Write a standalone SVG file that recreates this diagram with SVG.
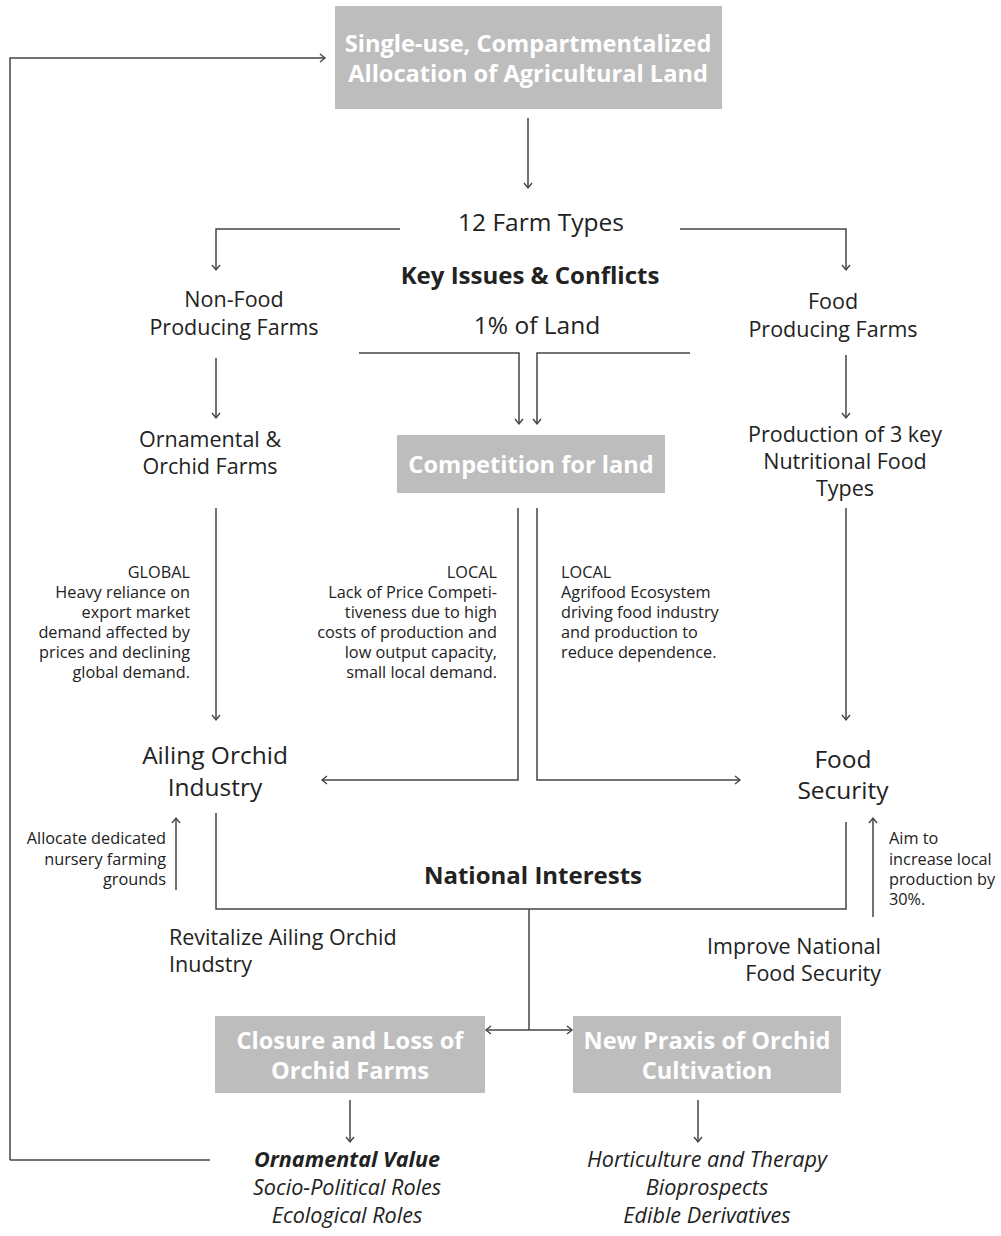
<svg xmlns="http://www.w3.org/2000/svg" width="1001" height="1236" viewBox="0 0 1001 1236">
<style>
text{font-family:"Open Sans",Roboto,"Liberation Sans",sans-serif;fill:#222}
.box{fill:#bdbdbd}
.bt{fill:#fff;font-weight:bold;font-size:23.6px;text-anchor:middle}
.lbl{font-size:21.5px;text-anchor:middle}
.big{font-size:24.5px;text-anchor:middle}
.hd{font-size:24px;font-weight:bold;text-anchor:middle}
.sm{font-size:16.3px}
.r{text-anchor:end}
.it{font-style:italic;font-size:21.6px;text-anchor:middle}
.c line,.c path{stroke:#444;stroke-width:1.5;fill:none}
.a{marker-end:url(#ah)}
.ab{marker-start:url(#ahs);marker-end:url(#ah)}
</style>
<defs>
<marker id="ah" markerUnits="userSpaceOnUse" markerWidth="12" markerHeight="12" refX="6" refY="5" orient="auto" viewBox="0 0 12 12">
<path d="M1,1 L6,5 L1,9" fill="none" stroke="#444" stroke-width="1.4"/>
</marker>
<marker id="ahs" markerUnits="userSpaceOnUse" markerWidth="12" markerHeight="12" refX="6" refY="5" orient="auto-start-reverse" viewBox="0 0 12 12">
<path d="M1,1 L6,5 L1,9" fill="none" stroke="#444" stroke-width="1.4"/>
</marker>
</defs>

<g id="connectors" class="c">
<path class="a" d="M10,1160 V58 H325"/>
<path d="M10,1160 H210"/>
<line class="a" x1="528" y1="118" x2="528" y2="188"/>
<path class="a" d="M400,229 H216 V270"/>
<path class="a" d="M680,229 H846 V270"/>
<path class="a" d="M359,353 H519 V424"/>
<path class="a" d="M690,353 H537 V424"/>
<line class="a" x1="216" y1="358" x2="216" y2="418"/>
<line class="a" x1="846" y1="355" x2="846" y2="418"/>
<line class="a" x1="216" y1="508" x2="216" y2="720"/>
<line class="a" x1="846" y1="508" x2="846" y2="720"/>
<path class="a" d="M518,508 V780 H322"/>
<path class="a" d="M537,508 V780 H740"/>
<line class="a" x1="176" y1="890" x2="176" y2="818"/>
<line class="a" x1="873" y1="917" x2="873" y2="818"/>
<path d="M216,813 V909 H846 V822"/>
<line x1="529" y1="909" x2="529" y2="1030"/>
<line class="ab" x1="486" y1="1030" x2="572" y2="1030"/>
<line class="a" x1="350" y1="1100" x2="350" y2="1142"/>
<line class="a" x1="698" y1="1100" x2="698" y2="1142"/>
</g>

<g id="n-top">
<rect class="box" x="335" y="6" width="387" height="103"/>
<text class="bt" x="528" y="52">Single-use, Compartmentalized</text>
<text class="bt" x="528" y="82">Allocation of Agricultural Land</text>
</g>
<g id="n-farmtypes"><text class="big" x="541" y="231">12 Farm Types</text></g>
<g id="n-keyissues"><text class="hd" x="530" y="284">Key Issues &amp; Conflicts</text></g>
<g id="n-nonfood">
<text class="lbl" x="234" y="307">Non-Food</text>
<text class="lbl" x="234" y="335">Producing Farms</text>
</g>
<g id="n-land"><text class="big" x="537" y="334">1% of Land</text></g>
<g id="n-food">
<text class="lbl" x="833" y="309">Food</text>
<text class="lbl" x="833" y="337">Producing Farms</text>
</g>
<g id="n-ornamental">
<text class="lbl" x="210" y="447">Ornamental &amp;</text>
<text class="lbl" x="210" y="474">Orchid Farms</text>
</g>
<g id="n-competition">
<rect class="box" x="397" y="435" width="268" height="58"/>
<text class="bt" x="531" y="473">Competition for land</text>
</g>
<g id="n-production">
<text class="lbl" x="845" y="442">Production of 3 key</text>
<text class="lbl" x="845" y="469">Nutritional Food</text>
<text class="lbl" x="845" y="496">Types</text>
</g>
<g id="n-global">
<text class="sm r" x="190" y="578">GLOBAL</text>
<text class="sm r" x="190" y="598">Heavy reliance on</text>
<text class="sm r" x="190" y="618">export market</text>
<text class="sm r" x="190" y="638">demand affected by</text>
<text class="sm r" x="190" y="658">prices and declining</text>
<text class="sm r" x="190" y="678">global demand.</text>
</g>
<g id="n-local1">
<text class="sm r" x="497" y="578">LOCAL</text>
<text class="sm r" x="497" y="598">Lack of Price Competi-</text>
<text class="sm r" x="497" y="618">tiveness due to high</text>
<text class="sm r" x="497" y="638">costs of production and</text>
<text class="sm r" x="497" y="658">low output capacity,</text>
<text class="sm r" x="497" y="678">small local demand.</text>
</g>
<g id="n-local2">
<text class="sm" x="561" y="578">LOCAL</text>
<text class="sm" x="561" y="598">Agrifood Ecosystem</text>
<text class="sm" x="561" y="618">driving food industry</text>
<text class="sm" x="561" y="638">and production to</text>
<text class="sm" x="561" y="658">reduce dependence.</text>
</g>
<g id="n-ailing">
<text class="big" x="215" y="764">Ailing Orchid</text>
<text class="big" x="215" y="796">Industry</text>
</g>
<g id="n-security">
<text class="big" x="843" y="768">Food</text>
<text class="big" x="843" y="799">Security</text>
</g>
<g id="n-allocate">
<text class="sm r" x="166" y="844">Allocate dedicated</text>
<text class="sm r" x="166" y="865">nursery farming</text>
<text class="sm r" x="166" y="885">grounds</text>
</g>
<g id="n-aim">
<text class="sm" x="889" y="844">Aim to</text>
<text class="sm" x="889" y="865">increase local</text>
<text class="sm" x="889" y="885">production by</text>
<text class="sm" x="889" y="905">30%.</text>
</g>
<g id="n-national"><text class="hd" x="533" y="884">National Interests</text></g>
<g id="n-revitalize">
<text class="lbl" x="169" y="945" style="text-anchor:start">Revitalize Ailing Orchid</text>
<text class="lbl" x="169" y="972" style="text-anchor:start">Inudstry</text>
</g>
<g id="n-improve">
<text class="lbl" x="881" y="954" style="text-anchor:end">Improve National</text>
<text class="lbl" x="881" y="981" style="text-anchor:end">Food Security</text>
</g>
<g id="n-closure">
<rect class="box" x="215" y="1016" width="270" height="77"/>
<text class="bt" x="350" y="1049">Closure and Loss of</text>
<text class="bt" x="350" y="1079">Orchid Farms</text>
</g>
<g id="n-praxis">
<rect class="box" x="573" y="1016" width="268" height="77"/>
<text class="bt" x="707" y="1049">New Praxis of Orchid</text>
<text class="bt" x="707" y="1079">Cultivation</text>
</g>
<g id="n-values">
<text class="it" x="347" y="1167" font-weight="bold">Ornamental Value</text>
<text class="it" x="347" y="1195">Socio-Political Roles</text>
<text class="it" x="347" y="1223">Ecological Roles</text>
</g>
<g id="n-praxisout">
<text class="it" x="707" y="1167">Horticulture and Therapy</text>
<text class="it" x="707" y="1195">Bioprospects</text>
<text class="it" x="707" y="1223">Edible Derivatives</text>
</g>
</svg>
